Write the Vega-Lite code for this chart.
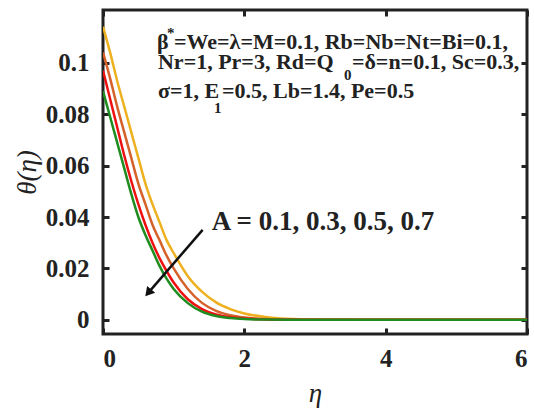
{
  "$schema": "https://vega.github.io/schema/vega-lite/v6.json",
  "width": 424,
  "height": 324,
  "autosize": {"type": "none"},
  "padding": {"left": 103, "top": 10, "right": 7, "bottom": 80},
  "background": "white",
  "config": {
    "font": "Liberation Serif",
    "view": {"stroke": "#222", "strokeWidth": 3},
    "axis": {
      "domain": false, "grid": false,
      "labelFont": "Liberation Serif", "labelFontWeight": "bold", "labelFontSize": 25, "labelColor": "#222",
      "tickColor": "#222", "tickWidth": 3, "tickSize": -6,
      "titleFont": "Liberation Serif", "titleFontStyle": "italic", "titleFontWeight": "normal", "titleFontSize": 27, "titleColor": "#222"
    }
  },
  "resolve": {"axis": {"x": "independent", "y": "independent"}},
  "datasets": {
    "curves": [
      {"eta": 0, "theta": 0.114, "A": "0.1"}, {"eta": 0.1, "theta": 0.104, "A": "0.1"}, {"eta": 0.2, "theta": 0.093, "A": "0.1"}, {"eta": 0.3, "theta": 0.083, "A": "0.1"}, {"eta": 0.4, "theta": 0.073, "A": "0.1"}, {"eta": 0.5, "theta": 0.063, "A": "0.1"}, {"eta": 0.6, "theta": 0.053, "A": "0.1"}, {"eta": 0.7, "theta": 0.045, "A": "0.1"}, {"eta": 0.8, "theta": 0.038, "A": "0.1"}, {"eta": 0.9, "theta": 0.031, "A": "0.1"}, {"eta": 1.0, "theta": 0.026, "A": "0.1"}, {"eta": 1.2, "theta": 0.017, "A": "0.1"}, {"eta": 1.4, "theta": 0.011, "A": "0.1"}, {"eta": 1.6, "theta": 0.0068, "A": "0.1"}, {"eta": 1.8, "theta": 0.0042, "A": "0.1"}, {"eta": 2.0, "theta": 0.0025, "A": "0.1"}, {"eta": 2.3, "theta": 0.0011, "A": "0.1"}, {"eta": 2.6, "theta": 0.0004, "A": "0.1"}, {"eta": 3.0, "theta": 0.0001, "A": "0.1"}, {"eta": 4.0, "theta": 0, "A": "0.1"}, {"eta": 6.0, "theta": 0, "A": "0.1"},
      {"eta": 0, "theta": 0.104, "A": "0.3"}, {"eta": 0.1, "theta": 0.094, "A": "0.3"}, {"eta": 0.2, "theta": 0.083, "A": "0.3"}, {"eta": 0.3, "theta": 0.073, "A": "0.3"}, {"eta": 0.4, "theta": 0.063, "A": "0.3"}, {"eta": 0.5, "theta": 0.053, "A": "0.3"}, {"eta": 0.6, "theta": 0.045, "A": "0.3"}, {"eta": 0.7, "theta": 0.037, "A": "0.3"}, {"eta": 0.8, "theta": 0.031, "A": "0.3"}, {"eta": 0.9, "theta": 0.025, "A": "0.3"}, {"eta": 1.0, "theta": 0.020, "A": "0.3"}, {"eta": 1.2, "theta": 0.012, "A": "0.3"}, {"eta": 1.4, "theta": 0.0066, "A": "0.3"}, {"eta": 1.6, "theta": 0.0035, "A": "0.3"}, {"eta": 1.8, "theta": 0.0018, "A": "0.3"}, {"eta": 2.0, "theta": 0.0009, "A": "0.3"}, {"eta": 2.3, "theta": 0.0003, "A": "0.3"}, {"eta": 2.6, "theta": 0.0001, "A": "0.3"}, {"eta": 3.0, "theta": 0.00002, "A": "0.3"}, {"eta": 4.0, "theta": 0, "A": "0.3"}, {"eta": 6.0, "theta": 0, "A": "0.3"},
      {"eta": 0, "theta": 0.097, "A": "0.5"}, {"eta": 0.1, "theta": 0.086, "A": "0.5"}, {"eta": 0.2, "theta": 0.075, "A": "0.5"}, {"eta": 0.3, "theta": 0.064, "A": "0.5"}, {"eta": 0.4, "theta": 0.054, "A": "0.5"}, {"eta": 0.5, "theta": 0.045, "A": "0.5"}, {"eta": 0.6, "theta": 0.037, "A": "0.5"}, {"eta": 0.7, "theta": 0.030, "A": "0.5"}, {"eta": 0.8, "theta": 0.024, "A": "0.5"}, {"eta": 0.9, "theta": 0.019, "A": "0.5"}, {"eta": 1.0, "theta": 0.0145, "A": "0.5"}, {"eta": 1.2, "theta": 0.0080, "A": "0.5"}, {"eta": 1.4, "theta": 0.0042, "A": "0.5"}, {"eta": 1.6, "theta": 0.0021, "A": "0.5"}, {"eta": 1.8, "theta": 0.0010, "A": "0.5"}, {"eta": 2.0, "theta": 0.0005, "A": "0.5"}, {"eta": 2.3, "theta": 0.00015, "A": "0.5"}, {"eta": 2.6, "theta": 0.00005, "A": "0.5"}, {"eta": 3.0, "theta": 0, "A": "0.5"}, {"eta": 4.0, "theta": 0, "A": "0.5"}, {"eta": 6.0, "theta": 0, "A": "0.5"},
      {"eta": 0, "theta": 0.089, "A": "0.7"}, {"eta": 0.1, "theta": 0.079, "A": "0.7"}, {"eta": 0.2, "theta": 0.069, "A": "0.7"}, {"eta": 0.3, "theta": 0.059, "A": "0.7"}, {"eta": 0.4, "theta": 0.049, "A": "0.7"}, {"eta": 0.5, "theta": 0.040, "A": "0.7"}, {"eta": 0.6, "theta": 0.033, "A": "0.7"}, {"eta": 0.7, "theta": 0.027, "A": "0.7"}, {"eta": 0.8, "theta": 0.021, "A": "0.7"}, {"eta": 0.9, "theta": 0.016, "A": "0.7"}, {"eta": 1.0, "theta": 0.012, "A": "0.7"}, {"eta": 1.2, "theta": 0.0065, "A": "0.7"}, {"eta": 1.4, "theta": 0.0032, "A": "0.7"}, {"eta": 1.6, "theta": 0.0015, "A": "0.7"}, {"eta": 1.8, "theta": 0.0007, "A": "0.7"}, {"eta": 2.0, "theta": 0.0003, "A": "0.7"}, {"eta": 2.3, "theta": 0.0001, "A": "0.7"}, {"eta": 2.6, "theta": 0.00003, "A": "0.7"}, {"eta": 3.0, "theta": 0, "A": "0.7"}, {"eta": 4.0, "theta": 0, "A": "0.7"}, {"eta": 6.0, "theta": 0, "A": "0.7"}
    ],
    "notes": [
      {"x": 0.764, "y": 0.108, "t": "β", "size": 22},
      {"x": 0.905, "y": 0.1115, "t": "*", "size": 15},
      {"x": 1.004, "y": 0.108, "t": "=We=λ=M=0.1, Rb=Nb=Nt=Bi=0.1,", "size": 22},
      {"x": 0.778, "y": 0.1002, "t": "Nr=1, Pr=3, Rd=Q", "size": 22},
      {"x": 3.409, "y": 0.0951, "t": "0", "size": 15},
      {"x": 3.522, "y": 0.1002, "t": "=δ=n=0.1, Sc=0.3,", "size": 22},
      {"x": 0.778, "y": 0.0889, "t": "σ=1, E", "size": 22},
      {"x": 1.57, "y": 0.0825, "t": "1", "size": 15},
      {"x": 1.683, "y": 0.0889, "t": "=0.5, Lb=1.4, Pe=0.5", "size": 22},
      {"x": 1.54, "y": 0.038, "t": "A = 0.1, 0.3, 0.5, 0.7", "size": 27}
    ],
    "arrow": [{"x1": 1.41, "y1": 0.035, "x2": 0.64, "y2": 0.0105}]
  },
  "layer": [
    {
      "data": {"name": "curves"},
      "mark": {"type": "line", "strokeWidth": 2.5, "interpolate": "monotone", "clip": true},
      "encoding": {
        "x": {"field": "eta", "type": "quantitative", "scale": {"domain": [0, 6], "nice": false},
              "axis": {"values": [0, 2, 4, 6], "title": "η", "labelPadding": 18, "titlePadding": 9,
                       "labelFont": "Liberation Serif", "labelFontWeight": "bold", "labelFontSize": 25,
                       "titleFont": "Liberation Serif", "titleFontStyle": "italic", "titleFontWeight": "normal", "titleFontSize": 27}},
        "y": {"field": "theta", "type": "quantitative", "scale": {"domain": [-0.0055, 0.1205], "nice": false, "zero": false},
              "axis": {"values": [0, 0.02, 0.04, 0.06, 0.08, 0.1], "format": ".2~f", "title": "θ(η)", "labelPadding": 20, "titlePadding": 4,
                       "labelFont": "serif", "labelFontWeight": "bold", "labelFontSize": 25,
                       "titleFont": "serif", "titleFontStyle": "italic", "titleFontWeight": "normal", "titleFontSize": 27}},
        "color": {"field": "A", "type": "nominal", "legend": null,
                  "scale": {"domain": ["0.1", "0.3", "0.5", "0.7"], "range": ["#EDB120", "#D4622A", "#EE1111", "#1E8C1E"]}},
        "order": {"field": "A", "type": "nominal", "sort": "ascending"}
      }
    },
    {
      "data": {"name": "arrow"},
      "mark": {"type": "rule", "strokeWidth": 2.5, "color": "#111"},
      "encoding": {
        "x": {"field": "x1", "type": "quantitative", "axis": null},
        "y": {"field": "y1", "type": "quantitative", "axis": null},
        "x2": {"field": "x2"},
        "y2": {"field": "y2"}
      }
    },
    {
      "data": {"name": "arrow"},
      "mark": {"type": "point", "shape": "triangle-up", "filled": true, "color": "#111", "size": 110, "angle": 220, "opacity": 1},
      "encoding": {
        "x": {"field": "x2", "type": "quantitative", "axis": null},
        "y": {"field": "y2", "type": "quantitative", "axis": null}
      }
    },
    {
      "data": {"name": "notes"},
      "mark": {"type": "text", "align": "left", "baseline": "middle", "font": "Liberation Serif", "fontWeight": "bold", "color": "#222"},
      "encoding": {
        "x": {"field": "x", "type": "quantitative",
              "axis": {"orient": "top", "values": [0, 2, 4, 6], "labels": false, "title": null}},
        "y": {"field": "y", "type": "quantitative",
              "axis": {"orient": "right", "values": [0, 0.02, 0.04, 0.06, 0.08, 0.1], "labels": false, "title": null}},
        "text": {"field": "t"},
        "size": {"field": "size", "type": "quantitative", "scale": null}
      }
    }
  ]
}
